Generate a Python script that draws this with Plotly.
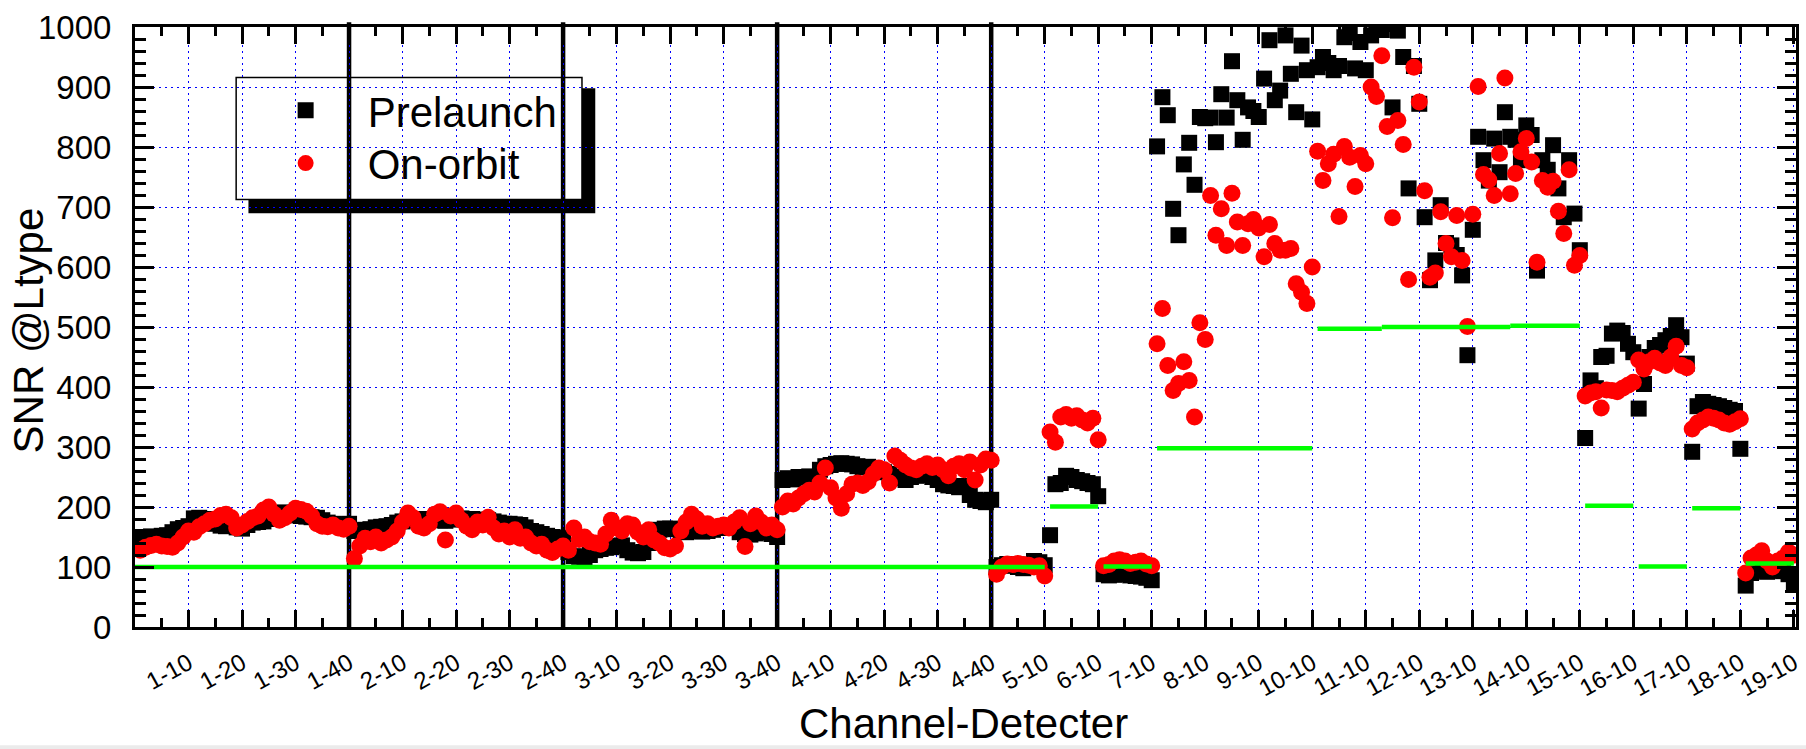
import plotly.graph_objects as go

FONT = "Liberation Sans, Arial, Helvetica, sans-serif"

# Channel layout: channels 1-4 have 40 detectors, channels 5-19 have 10
channels = list(range(1, 20))
detectors_per_channel = [40, 40, 40, 40] + [10] * 15

# Prelaunch SNR per channel (detector order)
prelaunch_ch1 = [150, 149, 151, 150, 152, 153, 158, 163, 165, 168,
                 181, 182, 180, 178, 172, 169, 168, 170, 166, 164,
                 170, 174, 175, 176, 180, 186, 190, 191, 188, 186,
                 185, 184, 183, 182, 178, 174, 172, 171, 170, 172]
prelaunch_ch2 = [160, 161, 162, 163, 166, 167, 168, 170, 174, 176,
                 178, 178, 179, 180, 180, 179, 178, 177, 179, 180,
                 181, 180, 180, 179, 178, 178, 176, 174, 172, 172,
                 171, 170, 166, 160, 158, 155, 152, 150, 149, 148]
prelaunch_ch3 = [125, 118, 117, 116, 120, 128, 130, 132, 133, 135,
                 136, 128, 124, 123, 125, 140, 155, 162, 164, 164,
                 163, 160, 158, 163, 160, 159, 160, 162, 165, 167,
                 167, 165, 158, 155, 154, 156, 158, 160, 155, 150]
prelaunch_ch4 = [245, 248, 246, 250, 249, 251, 250, 262, 268, 270,
                 272, 273, 272, 271, 268, 266, 267, 265, 262, 258,
                 255, 250, 248, 245, 250, 252, 254, 253, 250, 245,
                 238, 236, 235, 233, 235, 220, 212, 210, 208, 212]
prelaunch_ch5 = [100, 103, 105, 102, 100, 98, 104, 110, 108, 103]
prelaunch_ch6 = [153, 238, 240, 252, 250, 245, 243, 240, 238, 218]
prelaunch_ch7 = [88, 86, 87, 88, 90, 86, 85, 84, 82, 78]
prelaunch_ch8 = [801, 883, 853, 697, 653, 771, 807, 737, 850, 848]
prelaunch_ch9 = [849, 808, 888, 849, 943, 878, 812, 866, 860, 850]
prelaunch_ch10 = [914, 978, 878, 894, 986, 922, 858, 969, 928, 846]
prelaunch_ch11 = [933, 950, 940, 928, 935, 983, 990, 931, 975, 928]
prelaunch_ch12 = [986, 1000, 995, 1005, 866, 994, 950, 731, 935, 872]
prelaunch_ch13 = [683, 578, 611, 703, 640, 636, 620, 586, 453, 662]
prelaunch_ch14 = [817, 778, 744, 814, 758, 858, 817, 812, 778, 836]
prelaunch_ch15 = [820, 594, 778, 762, 803, 731, 683, 778, 689, 628]
prelaunch_ch16 = [315, 411, 398, 450, 452, 489, 494, 490, 472, 458]
prelaunch_ch17 = [364, 405, 450, 465, 470, 478, 485, 503, 483, 439]
prelaunch_ch18 = [292, 368, 375, 372, 370, 368, 365, 362, 360, 297]
prelaunch_ch19 = [69, 90, 94, 96, 92, 94, 95, 93, 88, 72]

# On-orbit SNR per channel (detector order)
onorbit_ch1 = [128, 133, 136, 138, 135, 134, 133, 140, 150, 160,
               158, 167, 172, 178, 180, 186, 188, 182, 165, 170,
               176, 182, 185, 195, 200, 188, 178, 182, 190, 198,
               196, 193, 185, 172, 168, 167, 170, 165, 163, 168]
onorbit_ch2 = [114, 135, 148, 142, 150, 140, 145, 150, 160, 175,
               190, 182, 168, 165, 172, 188, 192, 145, 185, 190,
               178, 168, 162, 175, 170, 183, 165, 155, 160, 150,
               162, 148, 150, 140, 135, 138, 128, 124, 130, 135]
onorbit_ch3 = [128, 165, 146, 150, 142, 140, 138, 155, 178, 165,
               160, 172, 170, 158, 150, 162, 145, 140, 132, 130,
               135, 160, 175, 188, 180, 168, 172, 165, 168, 170,
               165, 175, 182, 134, 172, 185, 175, 165, 170, 162]
onorbit_ch4 = [200, 210, 205, 215, 222, 228, 225, 240, 265, 232,
               215, 198, 222, 238, 240, 236, 242, 255, 265, 262,
               240, 285, 278, 270, 265, 262, 268, 272, 266, 270,
               262, 252, 268, 272, 262, 275, 245, 270, 280, 278]
onorbit_ch5 = [88, 100, 105, 104, 106, 104, 103, 100, 102, 85]
onorbit_ch6 = [325, 308, 350, 354, 348, 352, 345, 340, 348, 312]
onorbit_ch7 = [102, 104, 110, 112, 110, 106, 108, 110, 105, 102]
onorbit_ch8 = [472, 531, 436, 394, 406, 442, 411, 350, 507, 479]
onorbit_ch9 = [719, 653, 697, 636, 723, 675, 636, 672, 679, 665]
onorbit_ch10 = [617, 671, 639, 628, 628, 631, 572, 558, 539, 600]
onorbit_ch11 = [793, 744, 772, 788, 684, 801, 783, 734, 786, 772]
onorbit_ch12 = [900, 884, 952, 834, 682, 844, 804, 579, 933, 875]
onorbit_ch13 = [727, 583, 590, 692, 639, 617, 686, 611, 501, 688]
onorbit_ch14 = [901, 754, 745, 719, 789, 915, 722, 756, 792, 814]
onorbit_ch15 = [775, 608, 744, 733, 743, 693, 656, 762, 603, 619]
onorbit_ch16 = [385, 390, 392, 365, 395, 394, 392, 398, 403, 408]
onorbit_ch17 = [445, 430, 442, 448, 440, 436, 450, 468, 436, 432]
onorbit_ch18 = [330, 340, 345, 350, 348, 345, 340, 338, 342, 347]
onorbit_ch19 = [90, 115, 120, 127, 110, 100, 110, 115, 125, 120]

# Specification levels: start / end detector position and required SNR
spec_start = [0, 171, 181, 191, 221, 233, 257, 271, 281, 291, 301]
spec_end = [170, 180, 190, 220, 233, 257, 270, 280, 290, 300, 310]
spec_snr = [100, 201, 101, 298, 497, 500, 502, 202, 101, 198, 106]

prelaunch = [prelaunch_ch1, prelaunch_ch2, prelaunch_ch3, prelaunch_ch4,
             prelaunch_ch5, prelaunch_ch6, prelaunch_ch7, prelaunch_ch8,
             prelaunch_ch9, prelaunch_ch10, prelaunch_ch11, prelaunch_ch12,
             prelaunch_ch13, prelaunch_ch14, prelaunch_ch15, prelaunch_ch16,
             prelaunch_ch17, prelaunch_ch18, prelaunch_ch19]
onorbit = [onorbit_ch1, onorbit_ch2, onorbit_ch3, onorbit_ch4,
           onorbit_ch5, onorbit_ch6, onorbit_ch7, onorbit_ch8,
           onorbit_ch9, onorbit_ch10, onorbit_ch11, onorbit_ch12,
           onorbit_ch13, onorbit_ch14, onorbit_ch15, onorbit_ch16,
           onorbit_ch17, onorbit_ch18, onorbit_ch19]

# Sequential detector positions along the x axis with "channel-detector" labels
positions, labels = [], []
p = 0
for ch, n in zip(channels, detectors_per_channel):
    for d in range(1, n + 1):
        p += 1
        positions.append(p)
        labels.append(f"{ch}-{d}")

pre_values = [v for ch in prelaunch for v in ch]
orb_values = [v for ch in onorbit for v in ch]

tick_vals = [pos for pos, lab in zip(positions, labels) if int(lab.split("-")[1]) % 10 == 0]
tick_text = [lab for lab in labels if int(lab.split("-")[1]) % 10 == 0]

# Boundaries between the 40-detector channels
boundaries = []
acc = 0
for n in detectors_per_channel[:4]:
    acc += n
    boundaries.append(acc)

spec_x, spec_y = [], []
for x0, x1, v in zip(spec_start, spec_end, spec_snr):
    spec_x += [x0, x1, None]
    spec_y += [v, v, None]

fig = go.Figure()
fig.add_trace(go.Scatter(
    x=positions, y=pre_values, mode="markers", name="Prelaunch", legend="legend",
    text=labels, hovertemplate="%{text}: %{y}<extra>Prelaunch</extra>",
    marker=dict(symbol="square", size=16, color="black", line=dict(width=0)),
))
fig.add_trace(go.Scatter(
    x=positions, y=orb_values, mode="markers", name="On-orbit", legend="legend2",
    text=labels, hovertemplate="%{text}: %{y}<extra>On-orbit</extra>",
    marker=dict(symbol="circle", size=17, color="#ff0000", line=dict(width=0)),
))
fig.add_trace(go.Scatter(
    x=spec_x, y=spec_y, mode="lines", name="Spec", showlegend=False,
    hoverinfo="skip", line=dict(color="#00ff00", width=4.5),
))

shapes = [
    # legend frame: drop shadow then white box
    dict(type="rect", xref="paper", yref="paper", x0=0.0683, x1=0.2771, y0=0.6895, y1=0.8978,
         fillcolor="black", line=dict(width=0), layer="between"),
    dict(type="rect", xref="paper", yref="paper", x0=0.0609, x1=0.2691, y0=0.7123, y1=0.9157,
         fillcolor="white", line=dict(color="black", width=1.5), layer="between"),
]
for b in boundaries:
    shapes.append(dict(type="line", xref="x", yref="paper", x0=b, x1=b, y0=-0.005, y1=1.008,
                       line=dict(color="black", width=4.5), layer="between"))
shapes.append(dict(type="rect", xref="paper", yref="paper", x0=-0.1, x1=1.1, y0=-0.206, y1=-0.197,
                   fillcolor="#ebebeb", line=dict(width=0), layer="above"))

axis_common = dict(
    showline=True, linewidth=3, linecolor="black", mirror="ticks",
    ticks="inside", tickwidth=3, tickcolor="black",
    showgrid=True, gridcolor="#0000ff", gridwidth=1, griddash="2px,4px",
    zeroline=False,
)

legend_common = dict(
    xanchor="left", yanchor="top", bgcolor="rgba(0,0,0,0)", borderwidth=0,
    font=dict(family=FONT, size=42, color="black"), itemwidth=114,
)

fig.update_layout(
    width=1806, height=749,
    margin=dict(l=135, r=4, t=27, b=122),
    paper_bgcolor="white", plot_bgcolor="white",
    font=dict(family=FONT, color="black"),
    showlegend=True,
    legend=dict(x=0.0654, y=0.9175, **legend_common),
    legend2=dict(x=0.0654, y=0.8295, **legend_common),
    xaxis=dict(
        **axis_common,
        range=[0, 310.4], tickmode="array", tickvals=tick_vals, ticktext=tick_text,
        tickangle=-29, tickfont=dict(family=FONT, size=24, color="black"),
        ticklen=17, ticklabelstandoff=10,
        minor=dict(ticks="inside", ticklen=9, tickwidth=3, tickcolor="black",
                   tick0=5, dtick=10, showgrid=False),
    ),
    yaxis=dict(
        **axis_common,
        range=[0, 1000], tick0=0, dtick=100,
        tickfont=dict(family=FONT, size=33, color="black"),
        ticklen=19, ticklabelstandoff=14,
        minor=dict(ticks="inside", ticklen=11, tickwidth=3, tickcolor="black",
                   tick0=0, dtick=20, showgrid=False),
    ),
    shapes=shapes,
    annotations=[
        dict(text="SNR @Ltype", xref="paper", yref="paper", x=-0.0639, y=0.494,
             xanchor="center", yanchor="middle", textangle=-90, showarrow=False,
             font=dict(family=FONT, size=42, color="black")),
        dict(text="Channel-Detecter", xref="paper", yref="paper", x=0.499, y=-0.2025,
             xanchor="center", yanchor="bottom", showarrow=False,
             font=dict(family=FONT, size=42, color="black")),
    ],
)

fig.write_html("out.html")
